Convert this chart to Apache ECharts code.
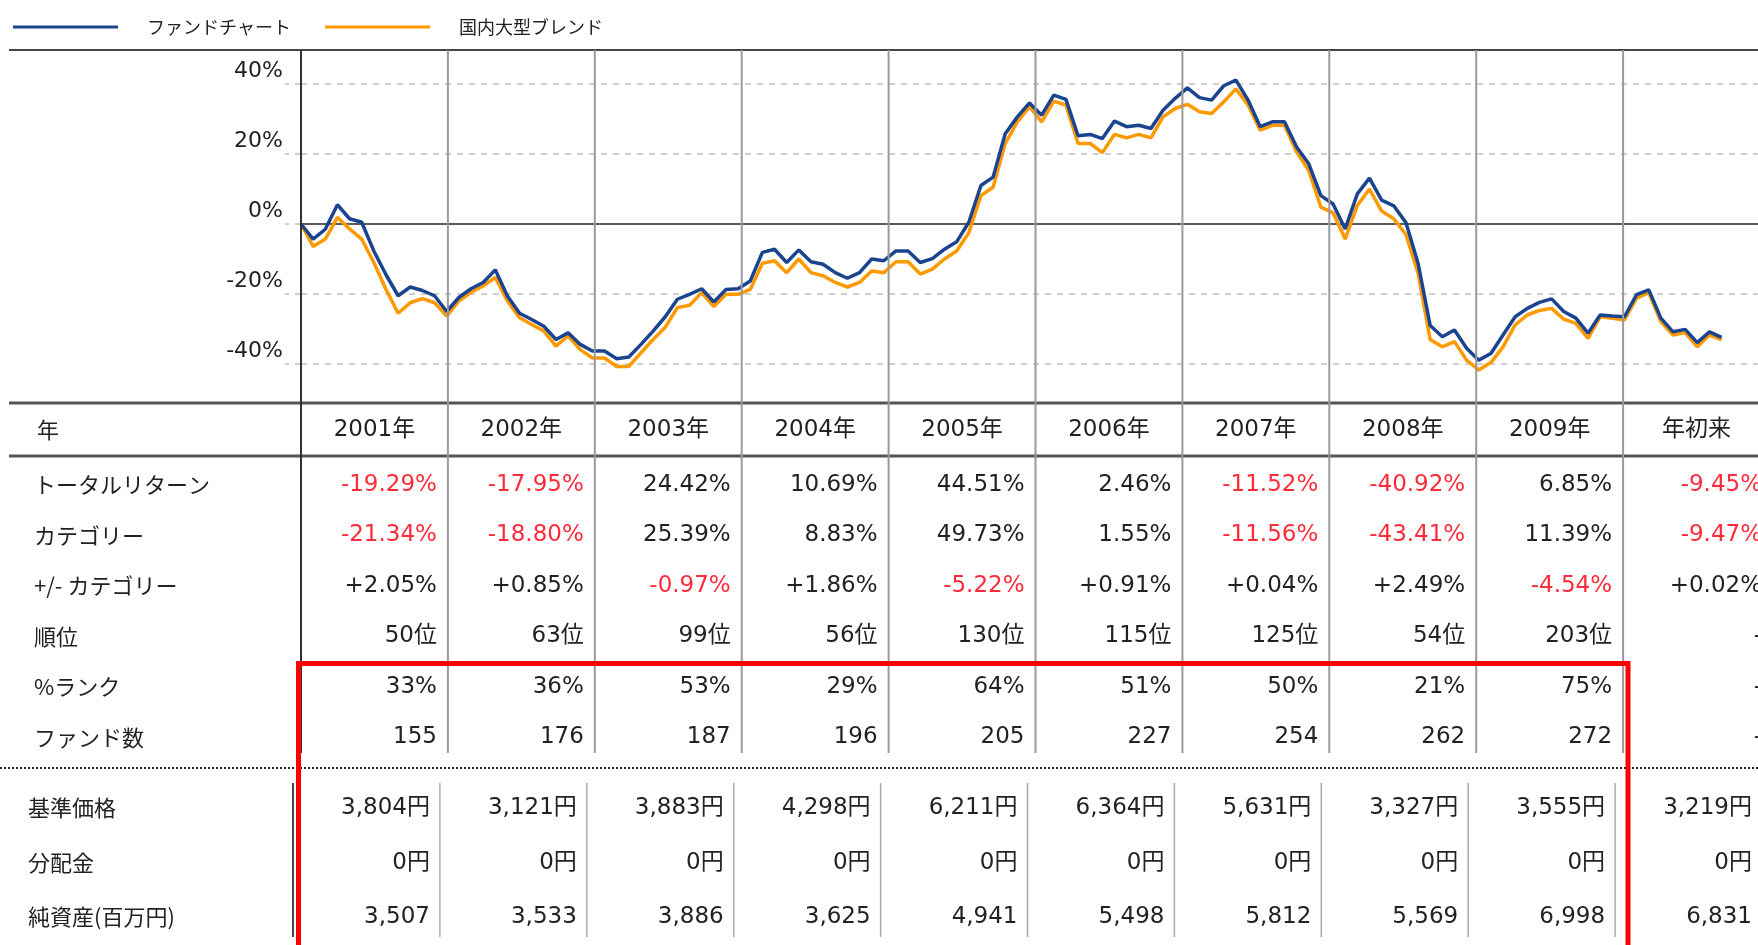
<!DOCTYPE html>
<html>
<head>
<meta charset="utf-8">
<script src="https://cdn.jsdelivr.net/npm/echarts@6/dist/echarts.min.js"></script>
<style>
html,body{margin:0;padding:0;background:#fff;}
#c{width:1758px;height:945px;}
</style>
</head>
<body>
<div id="c"></div>
<script>
// ---- data ----
const seriesNames = ['ファンドチャート', '国内大型ブレンド'];
// monthly cumulative return (%), month 0 = start of 2001
const fundReturn = [
  0, -4.3, -1.5, 5.5, 1.5, 0.5, -7.7, -14.5, -20.5, -18,
  -19, -20.5, -25, -21, -18.5, -16.7, -13.1, -20.6, -25.5, -27.3,
  -29.2, -33, -31.1, -34.4, -36.3, -36.3, -38.5, -38, -34.4, -30.6,
  -26.5, -21.5, -20.1, -18.5, -22.3, -18.7, -18.5, -16.3, -8.1, -7.2,
  -11, -7.4, -10.8, -11.5, -13.9, -15.5, -13.9, -10, -10.5, -7.7,
  -7.7, -11, -9.9, -7.2, -5.1, 0.5, 11, 13.4, 25.8, 30.6,
  34.6, 31.1, 36.8, 35.6, 25.2, 25.6, 24.4, 29.4, 27.8, 28.2,
  27.3, 32.5, 35.9, 38.9, 36.1, 35.4, 39.5, 41.1, 35.4, 27.8,
  29.2, 29.2, 22, 17.2, 8.1, 5.7, -1.4, 8.6, 13.1, 6.8,
  5.2, 0.4, -11.2, -29, -32.2, -30.3, -35.5, -38.9, -37, -31.7,
  -26.5, -24.1, -22.4, -21.4, -25, -26.9, -31.2, -26, -26.3, -26.5,
  -20.2, -18.8, -26.9, -30.8, -30.1, -33.9, -30.8, -32.4
];
const categoryReturn = [
  0, -6.4, -4.3, 1.9, -1.4, -4.3, -11, -18.7, -25.5, -22.5,
  -21.3, -22.5, -26.3, -22, -19.5, -17.7, -15.3, -22, -26.8, -28.7,
  -30.6, -34.9, -32, -35.9, -38.3, -38.3, -40.7, -40.7, -36.8, -33,
  -29.5, -23.9, -23.2, -19.6, -23.6, -20.1, -20.1, -18.7, -11.2, -10.5,
  -13.9, -10, -13.9, -14.8, -16.7, -18, -16.7, -13.4, -13.9, -10.8,
  -10.8, -14.3, -12.9, -10, -7.7, -2.5, 8.1, 10.5, 23, 29.2,
  33.5, 29.2, 35.1, 34, 23, 23, 20.4, 25.6, 24.6, 25.6,
  24.6, 30.6, 33, 34.2, 32.1, 31.6, 34.9, 38.6, 34, 26.8,
  28.2, 28.2, 20.6, 15.3, 4.8, 3.2, -4.3, 5.3, 10, 3.7,
  1.5, -3, -14, -33, -35.1, -33.6, -38.9, -41.7, -39.6, -35.1,
  -28.8, -26, -24.7, -24.1, -27.2, -28.4, -32.7, -26.5, -26.9, -27.4,
  -21.2, -19.6, -27.9, -31.7, -31, -35.1, -31.7, -33.1
];
const yTicks = [-40, -20, 0, 20, 40];

// table
const yearLabels = ['2001年','2002年','2003年','2004年','2005年','2006年','2007年','2008年','2009年','年初来'];
const rowLabelsTop = ['トータルリターン','カテゴリー','+/- カテゴリー','順位','%ランク','ファンド数'];
const rowLabelsBottom = ['基準価格','分配金','純資産(百万円)'];
const totalReturn = [-19.29, -17.95, 24.42, 10.69, 44.51, 2.46, -11.52, -40.92, 6.85, -9.45];
const categoryYear = [-21.34, -18.80, 25.39, 8.83, 49.73, 1.55, -11.56, -43.41, 11.39, -9.47];
const diffCategory = [2.05, 0.85, -0.97, 1.86, -5.22, 0.91, 0.04, 2.49, -4.54, 0.02];
const rankPos = [50, 63, 99, 56, 130, 115, 125, 54, 203, null];
const pctRank = [33, 36, 53, 29, 64, 51, 50, 21, 75, null];
const fundCount = [155, 176, 187, 196, 205, 227, 254, 262, 272, null];
const navPrice = [3804, 3121, 3883, 4298, 6211, 6364, 5631, 3327, 3555, 3219];
const distribution = [0, 0, 0, 0, 0, 0, 0, 0, 0, 0];
const netAssets = [3507, 3533, 3886, 3625, 4941, 5498, 5812, 5569, 6998, 6831];

// ---- layout ----
const GL = 301, CW = 146.9, GT = 84, GH = 280;
const BL = 293;
const NUMF = '"DejaVu Sans", "Noto Sans CJK JP", sans-serif';
const JPF = '"Noto Sans CJK JP", "DejaVu Sans", sans-serif';
const TXT = '#222', RED = '#ff2b3a';

const fmtPct = v => v.toFixed(2) + '%';
const fmtSigned = v => (v >= 0 ? '+' : '') + v.toFixed(2) + '%';
const fmtComma = v => v.toLocaleString('en-US');
const orDash = (v, f) => v === null ? '-' : f(v);

const g = [];
function hline(y, x1, x2, color, w, dash) {
  g.push({type:'line', silent:true, z:50, shape:{x1:x1, y1:y, x2:x2, y2:y},
    style:{stroke:color, lineWidth:w, lineDash: dash || null}});
}
function vline(x, y1, y2, color, w) {
  g.push({type:'line', silent:true, z:50, shape:{x1:x, y1:y1, x2:x, y2:y2},
    style:{stroke:color, lineWidth:w}});
}
function text(t, x, y, align, color, font, size) {
  g.push({type:'text', silent:true, z:60, style:{text:t, x:x, y:y, align:align, verticalAlign:'middle',
    textAlign:align, textVerticalAlign:'middle', fill:color, fontSize:size || 23, fontFamily:font}});
}

hline(50, 9, 1758, '#444', 2);
hline(403, 9, 1758, '#555', 3);
hline(456, 9, 1758, '#555', 3);
hline(768, 0, 1758, '#222', 2, [2, 2]);
for (let k = 1; k < 10; k++) vline(GL + k * CW, 50, 753, '#9a9a9a', 2);
vline(GL, 50, 753, '#333', 2);
vline(BL, 783, 937, '#444', 2);
for (let k = 1; k < 10; k++) vline(BL + k * CW, 783, 937, '#aaa', 1.5);

text('年', 37, 430, 'left', TXT, JPF, 22);
yearLabels.forEach((t, k) => text(t, GL + k * CW + CW / 2, 430, 'center', TXT, NUMF));

const topRowY = [485, 535.5, 586, 636.5, 687, 737.5];
rowLabelsTop.forEach((t, i) => text(t, 34, topRowY[i], 'left', TXT, JPF, 22));
const topRows = [
  totalReturn.map(v => [fmtPct(v), v < 0]),
  categoryYear.map(v => [fmtPct(v), v < 0]),
  diffCategory.map(v => [fmtSigned(v), v < 0]),
  rankPos.map(v => [orDash(v, x => x + '位'), false]),
  pctRank.map(v => [orDash(v, x => x + '%'), false]),
  fundCount.map(v => [orDash(v, x => String(x)), false])
];
topRows.forEach((row, i) => row.forEach((c, k) => {
  const xr = k < 9 ? GL + (k + 1) * CW - 11 : 1762;
  text(c[0], xr, topRowY[i], 'right', c[1] ? RED : TXT, NUMF);
}));

const botRowY = [808, 863, 917];
rowLabelsBottom.forEach((t, i) => text(t, 28, botRowY[i], 'left', TXT, JPF, 22));
const botRows = [
  navPrice.map(v => fmtComma(v) + '円'),
  distribution.map(v => fmtComma(v) + '円'),
  netAssets.map(v => fmtComma(v))
];
botRows.forEach((row, i) => row.forEach((t, k) => {
  text(t, BL + (k + 1) * CW - 10, botRowY[i], 'right', TXT, NUMF);
}));

g.push({type:'rect', silent:true, z:70, shape:{x:298.5, y:663.5, width:1329.5, height:400},
  style:{fill:'none', stroke:'#ff0000', lineWidth:5}});

const chart = echarts.init(document.getElementById('c'), null, {renderer:'canvas'});
chart.setOption({
  backgroundColor:'#fff',
  animation:false,
  legend:{
    data: seriesNames, left: 8, top: 13, icon:'rect', itemWidth:105, itemHeight:3, itemGap:34,
    textStyle:{fontSize:18, color:TXT, fontFamily:JPF, padding:[0,0,0,24]}
  },
  grid:{left:GL, top:GT, width:CW * 10, height:GH, containLabel:false},
  xAxis:{type:'value', min:0, max:120, interval:12, show:true,
    axisLine:{show:false}, axisTick:{show:false}, axisLabel:{show:false}, splitLine:{show:false}},
  yAxis:{type:'value', min:-40, max:40, interval:20,
    axisLine:{show:false},
    axisTick:{show:true, inside:false, length:16, lineStyle:{color:'#cfcfcf', width:2, type:[6,6]}},
    axisLabel:{formatter:'{value}%', fontSize:22, color:TXT, fontFamily:NUMF, margin:18,
      verticalAlign:'bottom', lineHeight:26},
    splitLine:{show:true, lineStyle:{color:'#cfcfcf', width:2, type:[6,6]}}
  },
  series:[
    {name:seriesNames[1], type:'line', data: categoryReturn.map((v, i) => [i, v]),
      showSymbol:false, symbol:'none', clip:false, z:3,
      lineStyle:{color:'#ff9900', width:3.5}, itemStyle:{color:'#ff9900'}},
    {name:seriesNames[0], type:'line', data: fundReturn.map((v, i) => [i, v]),
      showSymbol:false, symbol:'none', clip:false, z:4,
      lineStyle:{color:'#1b448f', width:3.5}, itemStyle:{color:'#1b448f'},
      markLine:{silent:true, symbol:'none', label:{show:false}, z:2,
        lineStyle:{color:'#5a5a5a', width:2, type:'solid'}, data:[{yAxis:0}]}}
  ],
  graphic: g
});
</script>
</body>
</html>
